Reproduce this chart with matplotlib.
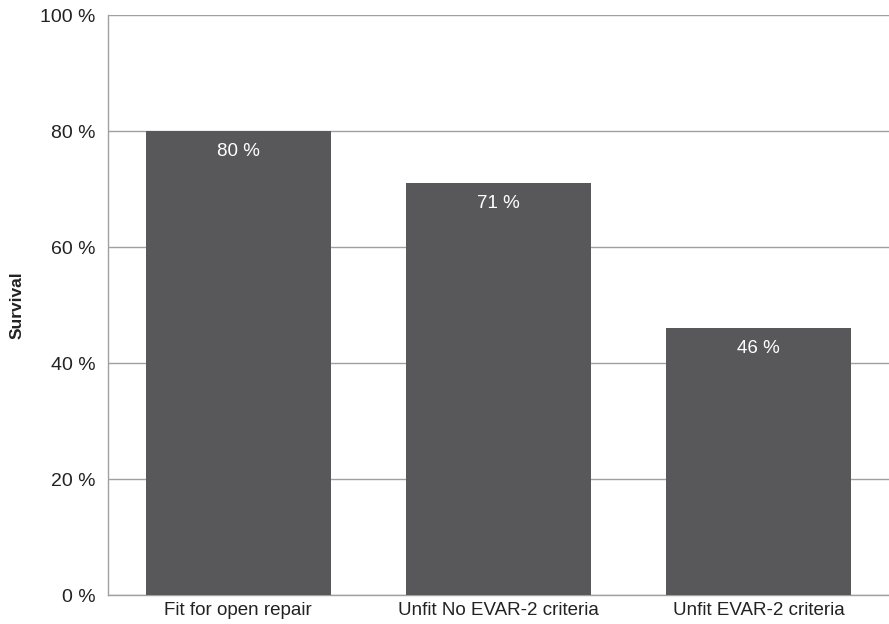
import matplotlib
matplotlib.use("Agg")
import matplotlib.pyplot as plt

categories = ["Fit for open repair", "Unfit No EVAR-2 criteria", "Unfit EVAR-2 criteria"]
values = [80, 71, 46]
yticks = [0, 20, 40, 60, 80, 100]

plt.rcParams['font.family'] = ['Liberation Sans', 'DejaVu Sans']

fig = plt.figure(figsize=(8.89, 6.24), dpi=100)
ax = fig.add_axes([108/889, 1 - 595/624, (889-108)/889, (595-15)/624])

x = range(len(categories))
ax.bar(x, values, width=0.71, color="#58585a", zorder=3)
ax.set_xlim(-0.5, len(categories) - 0.5)
ax.set_ylim(0, 100)
ax.set_yticks(yticks)
ax.set_yticklabels([f"{v} %" for v in yticks], fontsize=14, color="#222222")
ax.set_xticks(list(x))
ax.set_xticklabels(categories, fontsize=13.5, color="#222222")
ax.tick_params(axis='both', length=0, pad=9)
ax.tick_params(axis='x', pad=5)
ax.yaxis.grid(True, color="#a0a0a0", linewidth=1.0, zorder=0)
for s in ["top", "right"]:
    ax.spines[s].set_visible(False)
ax.spines["left"].set_color("#a0a0a0")
ax.spines["bottom"].set_color("#a0a0a0")
ax.spines["left"].set_linewidth(1.0)
ax.spines["bottom"].set_linewidth(1.0)

for xi, v in zip(x, values):
    ax.text(xi, v - 2, f"{v} %", ha="center", va="top", color="white", fontsize=13.5, zorder=4)

fig.text(17/889, 1 - 305/624, "Survival", rotation=90, ha="center", va="center",
         fontsize=12.5, fontweight="bold", color="#222222")

fig.savefig("out.png", dpi=100)
